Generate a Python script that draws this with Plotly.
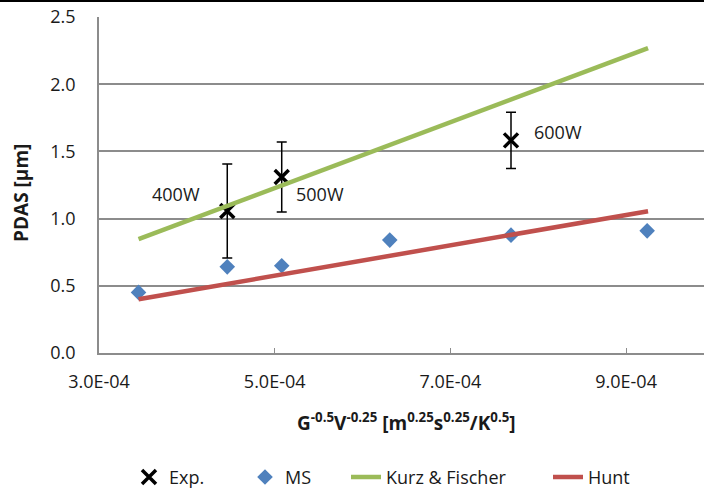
import plotly.graph_objects as go

# ---- data ----
exp_x = [4.46e-4, 5.08e-4, 7.69e-4]
exp_y = [1.057, 1.31, 1.582]
exp_err = [0.35, 0.26, 0.21]
exp_labels = ["400W", "500W", "600W"]
label_x = [3.88e-4, 5.52e-4, 8.22e-4]
label_y = [1.18, 1.18, 1.645]

ms_x = [3.45e-4, 4.46e-4, 5.08e-4, 6.31e-4, 7.69e-4, 9.24e-4]
ms_y = [0.451, 0.641, 0.649, 0.84, 0.877, 0.909]

model_x = [3.45e-4, 4.46e-4, 5.08e-4, 6.31e-4, 7.69e-4, 9.25e-4]
kurz_y = [0.847, 1.095, 1.247, 1.549, 1.887, 2.268]
hunt_y = [0.40, 0.514, 0.584, 0.723, 0.879, 1.055]

x_tickvals = [3e-4, 5e-4, 7e-4, 9e-4]
x_ticktext = ["3.0E-04", "5.0E-04", "7.0E-04", "9.0E-04"]

FONT = "Open Sans"
GRID = "#8c8c8c"
TXT = "#1a1a1a"

fig = go.Figure()
fig.add_trace(go.Scatter(
    x=exp_x, y=exp_y, mode="markers", name="Exp.", legend="legend",
    marker=dict(symbol="x-thin", size=14, color="black", line=dict(width=3.5, color="black")),
    error_y=dict(type="data", array=exp_err, visible=True, color="black", thickness=1.5, width=5),
))
fig.add_trace(go.Scatter(
    x=ms_x, y=ms_y, mode="markers", name="MS", legend="legend2",
    marker=dict(symbol="diamond", size=12, color="#4F81BD"),
))
fig.add_trace(go.Scatter(
    x=model_x, y=kurz_y, mode="lines", name="Kurz & Fischer", legend="legend3",
    line=dict(color="#9BBB59", width=4.5),
))
fig.add_trace(go.Scatter(
    x=model_x, y=hunt_y, mode="lines", name="Hunt", legend="legend4",
    line=dict(color="#C0504D", width=4.5),
))

for lx, ly, t in zip(label_x, label_y, exp_labels):
    fig.add_annotation(x=lx, y=ly, text=t, showarrow=False,
                       font=dict(family=FONT, size=18, color=TXT))

# x axis title
fig.add_annotation(x=6.5e-4, xref="x", y=-0.205, yref="paper", yanchor="middle",
                   text="<b>G<sup>-0.5</sup>V<sup>-0.25</sup> [m<sup>0.25</sup>s<sup>0.25</sup>/K<sup>0.5</sup>]</b>",
                   showarrow=False, font=dict(family=FONT, size=19, color=TXT))
# y axis title
fig.add_annotation(x=-0.128, xref="paper", y=0.475, yref="paper", textangle=-90,
                   xanchor="center", yanchor="middle",
                   text="<b>PDAS [µm]</b>", showarrow=False,
                   font=dict(family=FONT, size=19, color=TXT))

def leg(px):
    return dict(orientation="h", x=(px - 99) / 605, xanchor="left", y=-0.37, yanchor="middle",
                font=dict(family=FONT, size=18, color=TXT), itemwidth=30,
                bgcolor="rgba(0,0,0,0)", borderwidth=0)

fig.update_layout(
    width=704, height=490,
    margin=dict(l=99, r=0, t=17, b=137, autoexpand=False),
    paper_bgcolor="white", plot_bgcolor="white",
    font=dict(family=FONT, size=18, color=TXT),
    showlegend=True,
    legend=leg(129), legend2=leg(245), legend3=leg(346), legend4=leg(548),
    xaxis=dict(range=[3e-4, 9.887e-4], tickvals=x_tickvals, ticktext=x_ticktext,
               showgrid=False, zeroline=False, showline=True, linecolor=GRID, linewidth=1.5,
               ticks="inside", ticklen=5, tickcolor=GRID, ticklabelstandoff=12,
               automargin=False),
    yaxis=dict(range=[0, 2.5], dtick=0.5, tickformat=".1f",
               showgrid=True, gridcolor=GRID, gridwidth=1.5, zeroline=False,
               showline=True, linecolor=GRID, linewidth=1.5, ticks="", ticklabelstandoff=18,
               automargin=False),
)

post = (
    "document.body.style.margin='0';"
    "document.body.insertAdjacentHTML('afterbegin',"
    "'<div style=\"position:absolute;left:0;top:0;width:704px;height:2px;background:#000;z-index:10\"></div>');"
)
fig.write_html("out.html", config={"displayModeBar": False}, post_script=post)
